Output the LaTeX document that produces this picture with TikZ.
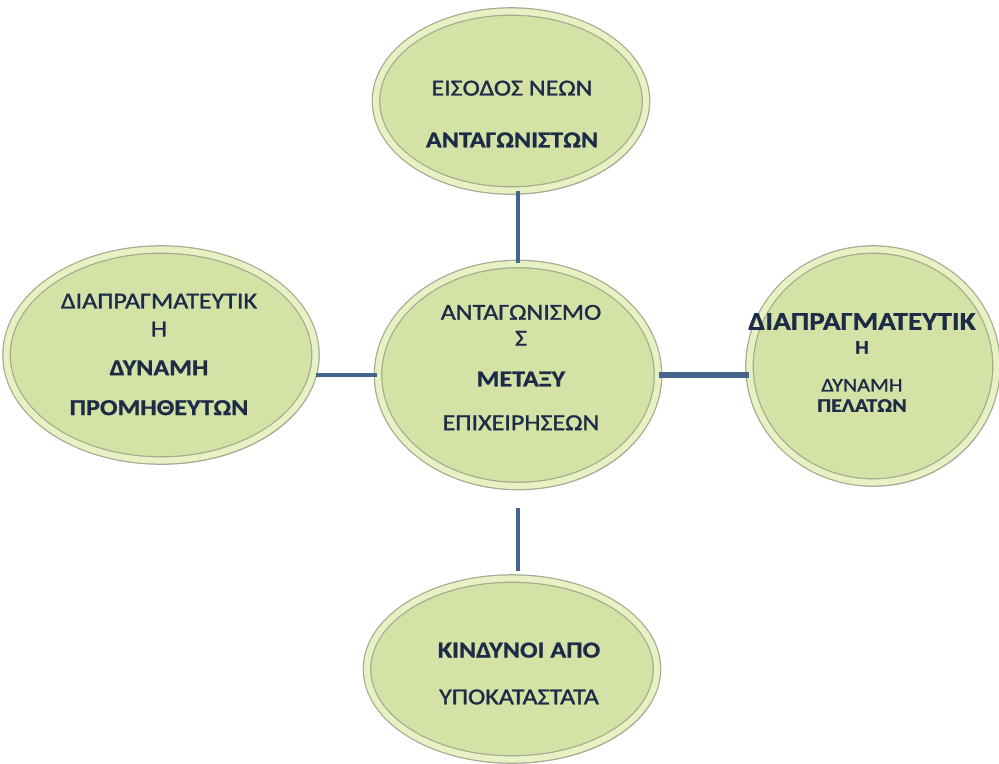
\documentclass[tikz,border=0pt]{standalone}
\usepackage{fontspec}
\setmainfont[FakeStretch=1.14, UprightFeatures={FakeBold=1.3}, BoldFeatures={FakeBold=0.9}]{Carlito}
\usetikzlibrary{shapes.geometric,shadows}
\definecolor{pillfill}{HTML}{D4E2A5}
\definecolor{pillband}{HTML}{E7F1C4}
\definecolor{pillrim}{HTML}{A2AB8E}
\definecolor{linkblue}{HTML}{44648E}
\definecolor{inknavy}{HTML}{1C2B48}

\begin{document}
\begin{tikzpicture}[
  pill/.style={ellipse, fill=pillfill, draw=pillrim, line width=0.7pt, double=pillband,
    double distance=3.5pt, inner sep=0pt,
    drop shadow={opacity=0.3, shadow xshift=0.05cm, shadow yshift=-0.08cm}},
  pilltext/.style={align=center, text=inknavy, font=\fontsize{13}{15.6}\selectfont},
  link/.style={draw=linkblue, line width=2.2pt}]
  \useasboundingbox (0, 0) rectangle (19.98, -15.26);
  \node[pill, minimum width=5.40cm, minimum height=3.58cm] (entry) at (10.22, -2.02) {};
  \node[pill, minimum width=6.18cm, minimum height=4.22cm] (supp) at (3.22, -7.10) {};
  \node[pill, minimum width=5.60cm, minimum height=4.44cm] (rival) at (10.36, -7.50) {};
  \node[pill, minimum width=4.94cm, minimum height=4.66cm] (cust) at (17.46, -7.32) {};
  \node[pill, minimum width=5.80cm, minimum height=3.62cm] (subs) at (10.24, -13.38) {};
  \node[pilltext] (entrytxt) at (10.24, -2.28) {ΕΙΣΟΔΟΣ ΝΕΩΝ\\[13.9pt]\textbf{ΑΝΤΑΓΩΝΙΣΤΩΝ}};
  \node[pilltext] (supptxt) at (3.18, -7.09) {ΔΙΑΠΡΑΓΜΑΤΕΥΤΙΚ\\[0.3pt]Η\\[6.5pt]\textbf{ΔΥΝΑΜΗ}\\[7.1pt]\textbf{ΠΡΟΜΗΘΕΥΤΩΝ}};
  \node[pilltext] (rivaltxt) at (10.42, -7.35) {ΑΝΤΑΓΩΝΙΣΜΟ\\[-0.9pt]Σ\\[7.6pt]\textbf{ΜΕΤΑΞΥ}\\[9.3pt]ΕΠΙΧΕΙΡΗΣΕΩΝ};
  \node[pilltext, font=\fontsize{11}{13}\selectfont] (custtxt) at (17.24, -7.25) {{\fontsize{14.6}{15}\selectfont\textbf{ΔΙΑΠΡΑΓΜΑΤΕΥΤΙΚ}}\\[0.6pt]\textbf{Η}\\[8.5pt]ΔΥΝΑΜΗ\\[-1.4pt]\textbf{ΠΕΛΑΤΩΝ}};
  \node[pilltext] (substxt) at (10.38, -13.47) {\textbf{ΚΙΝΔΥΝΟΙ ΑΠΟ}\\[11pt]ΥΠΟΚΑΤΑΣΤΑΤΑ};
  \draw[link] (entry.south -| rival.north) -- (rival.north);
  \draw[link] (supp.east |- rival.west) -- (rival.west);
  \draw[link, line width=3pt] (rival.east) -- (rival.east -| cust.west);
  \draw[link] ([yshift=-0.42cm]rival.south) -- ([yshift=0.14cm]rival.south |- subs.north);
\end{tikzpicture}
\end{document}
